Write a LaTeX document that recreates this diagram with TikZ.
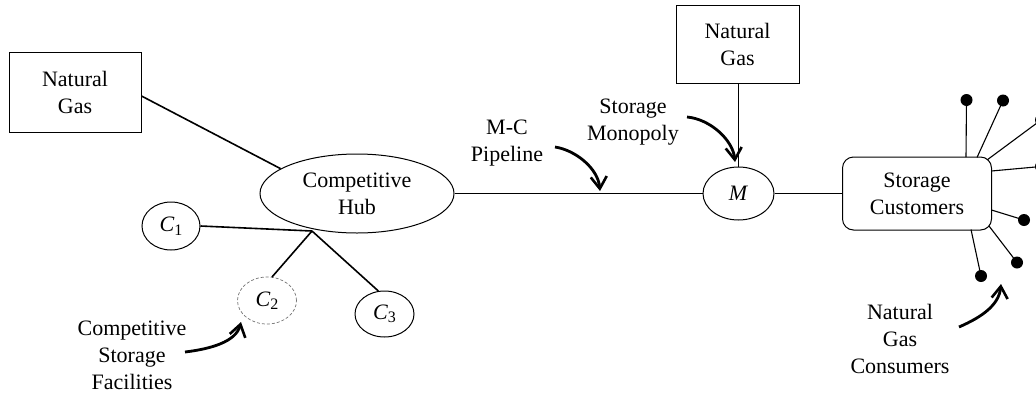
\documentclass[tikz,border=0pt]{standalone}
\usepackage{fontspec}
\setmainfont{Liberation Serif}
\usetikzlibrary{shapes.geometric,arrows.meta}
\tikzset{
  base/.style={font=\fontsize{22}{27}\selectfont, align=center, inner sep=0pt},
  gasbox/.style={base, draw, line width=1pt},
  oval/.style={base, draw, ellipse, line width=1pt},
  faintoval/.style={base, draw=black!55, densely dashed, ellipse, line width=0.7pt},
  custbox/.style={base, draw, rounded corners=11pt, line width=1pt},
  label/.style={base},
  link/.style={line width=1.6pt},
  thin link/.style={line width=1.1pt},
  curvearrow/.style={line width=2.8pt, -{Straight Barb[length=12pt,width=16pt,line width=2.6pt]}},
  dot/.style={circle, fill=black, inner sep=0pt, minimum size=12pt}
}
\newcommand{\Cs}[1]{\textit{C}\raisebox{-0.35ex}{\fontsize{16}{16}\selectfont #1}}
\begin{document}
\begin{tikzpicture}[x=1pt,y=-1pt]
\useasboundingbox (0,0) rectangle (1036,397);

% nodes
\node[gasbox, minimum width=132pt, minimum height=80pt] (ng1) at (75,92) {Natural\\Gas};
\node[oval, minimum width=194pt, minimum height=79pt] (hub) at (357,193.5) {Competitive\\Hub};
\node[oval, minimum width=58pt, minimum height=48pt] (c1) at (171,226) {\Cs{1}};
\node[faintoval, minimum width=59pt, minimum height=47pt] (c2) at (267,300.5) {\Cs{2}};
\node[oval, minimum width=59pt, minimum height=46pt] (c3) at (384.5,314) {\Cs{3}};
\coordinate (J) at (312,231);
\node[oval, minimum width=71pt, minimum height=53pt] (M) at (738.5,193.5) {\textit{M}};
\node[gasbox, minimum width=123pt, minimum height=78pt] (ng2) at (737.5,44) {Natural\\Gas};
\node[custbox, minimum width=149pt, minimum height=73pt] (sc) at (917,193.5) {Storage\\Customers};

% labels
\node[label] (lmc) at (507,143) {M-C\\Pipeline};
\node[label] (lsm) at (633,122) {Storage\\Monopoly};
\node[label] (lcs) at (132,355) {Competitive\\Storage\\Facilities};
\node[label] (lngc) at (900,339) {Natural\\Gas\\Consumers};

% connectors
\draw[link] ([yshift=-4pt]ng1.east) -- (hub.162);
\draw[link] (hub.east) -- (M.west);
\draw[link] (M.north) -- (M.north |- ng2.south);
\draw[link] (M.east) -- (sc.west);
\draw[link] (c1.east) -- (J);
\draw[link] (J) -- (c2.78);
\draw[link] (J) -- (c3.105);

% consumers
\coordinate (s1) at (966,157);
\coordinate (s2) at (977,157.5);
\coordinate (s3) at (987,160);
\coordinate (s4) at (991.5,171);
\coordinate (s5) at (991.5,210);
\coordinate (s6) at (989,226);
\coordinate (s7) at (971,229.5);
\node[dot] (d1) at (966.5,100) {};
\node[dot] (d2) at (1003,100.5) {};
\node[dot] (d3) at (1041,120) {};
\node[dot] (d4) at (1041,166.5) {};
\node[dot] (d5) at (1024,220) {};
\node[dot] (d6) at (1017,262.5) {};
\node[dot] (d7) at (981,276) {};
\foreach \i in {1,...,7} \draw[thin link] (s\i) -- (d\i.center);

% curved arrows
\coordinate (pm) at (600,191);
\coordinate (mm) at (735,162);
\coordinate (cc) at (241,322);
\coordinate (nc) at (1001,284);
\coordinate (a1) at (555,147);
\coordinate (a2) at (687,117);
\coordinate (a3) at (185,352);
\coordinate (a4) at (959,327);
\draw[curvearrow] (a1) .. controls (575,150) and (598,168) .. (pm);
\draw[curvearrow] (a2) .. controls (710,119) and (733,140) .. (mm);
\draw[curvearrow] (a3) .. controls (210,349) and (236,342) .. (cc);
\draw[curvearrow] (a4) .. controls (982,317) and (999,305) .. (nc);
\end{tikzpicture}
\end{document}
